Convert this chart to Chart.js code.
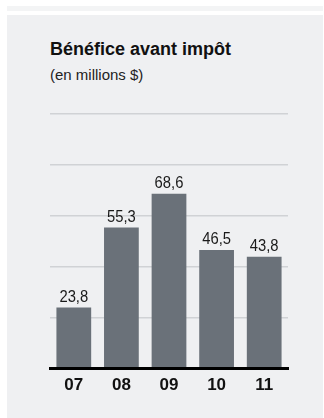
<!DOCTYPE html>
<html>
<head>
<meta charset="utf-8">
<script src="https://cdn.jsdelivr.net/npm/chart.js@4.4.1/dist/chart.umd.min.js"></script>
<style>
  html, body { margin: 0; padding: 0; background: #ffffff; }
  body { width: 324px; height: 418px; position: relative; overflow: hidden; font-family: "Liberation Sans", Arial, sans-serif; }
  #strip { position: absolute; left: 7px; top: 6px; width: 316px; height: 5px; background: #f3f4f5; }
  #panel { position: absolute; left: 7px; top: 15px; width: 316px; height: 403px; background: #eff0f2; }
  #title { position: absolute; left: 50px; top: 40px; font-size: 18px; line-height: 18px; font-weight: bold; color: #111; white-space: nowrap; }
  #subtitle { position: absolute; left: 50px; top: 66.5px; font-size: 15px; line-height: 15px; color: #222; white-space: nowrap; }
  #wrap { position: absolute; left: 0; top: 0; width: 324px; height: 418px; }
</style>
</head>
<body>
<div id="strip"></div>
<div id="panel"></div>
<div id="title">Bénéfice avant impôt</div>
<div id="subtitle">(en millions $)</div>
<div id="wrap"><canvas id="BarChart" width="324" height="418"></canvas></div>
<script>
var years = ['07', '08', '09', '10', '11'];
var profit = [23.8, 55.3, 68.6, 46.5, 43.8];
var yTicks = [0, 20, 40, 60, 80, 100];

document.addEventListener('DOMContentLoaded', function () {

    // labels above bars, with a French decimal comma (squeezed to look condensed)
    var valueLabels = {
        id: 'valueLabels',
        afterDatasetsDraw: function (chart) {
            var ctx = chart.ctx;
            var meta = chart.getDatasetMeta(0);
            meta.data.forEach(function (bar, i) {
                var txt = profit[i].toFixed(1).replace('.', ',');
                ctx.save();
                ctx.font = '17px "Liberation Sans", Arial, sans-serif';
                ctx.fillStyle = '#1a1a1a';
                ctx.textAlign = 'center';
                ctx.textBaseline = 'alphabetic';
                ctx.translate(bar.x, bar.y - 6);
                ctx.scale(0.87, 1);
                ctx.fillText(txt, 0, 0);
                ctx.restore();
            });
        }
    };

    var ctx = document.getElementById('BarChart').getContext('2d');
    window.myBarChart = new Chart(ctx, {
        type: 'bar',
        data: {
            labels: years,
            datasets: [{
                data: profit,
                backgroundColor: '#6a7179',
                borderWidth: 0,
                categoryPercentage: 1,
                barPercentage: 0.73
            }]
        },
        options: {
            responsive: false,
            animation: false,
            layout: {
                padding: { left: 50, right: 36, top: 114, bottom: 15.5 }
            },
            plugins: {
                legend: { display: false },
                tooltip: { enabled: false }
            },
            scales: {
                x: {
                    grid: { display: false, drawTicks: false },
                    border: { display: true, color: '#000000', width: 3, z: 1 },
                    ticks: {
                        color: '#111111',
                        padding: 7,
                        font: { family: '"Liberation Sans", Arial, sans-serif', size: 17, weight: 'bold' }
                    }
                },
                y: {
                    min: 0,
                    max: 100,
                    afterBuildTicks: function (axis) {
                        axis.ticks = yTicks.map(function (v) { return { value: v }; });
                    },
                    grid: { color: '#d0d2d5', lineWidth: 1.5, drawTicks: false },
                    border: { display: false },
                    ticks: { display: false }
                }
            }
        },
        plugins: [valueLabels]
    });
});
</script>
</body>
</html>
